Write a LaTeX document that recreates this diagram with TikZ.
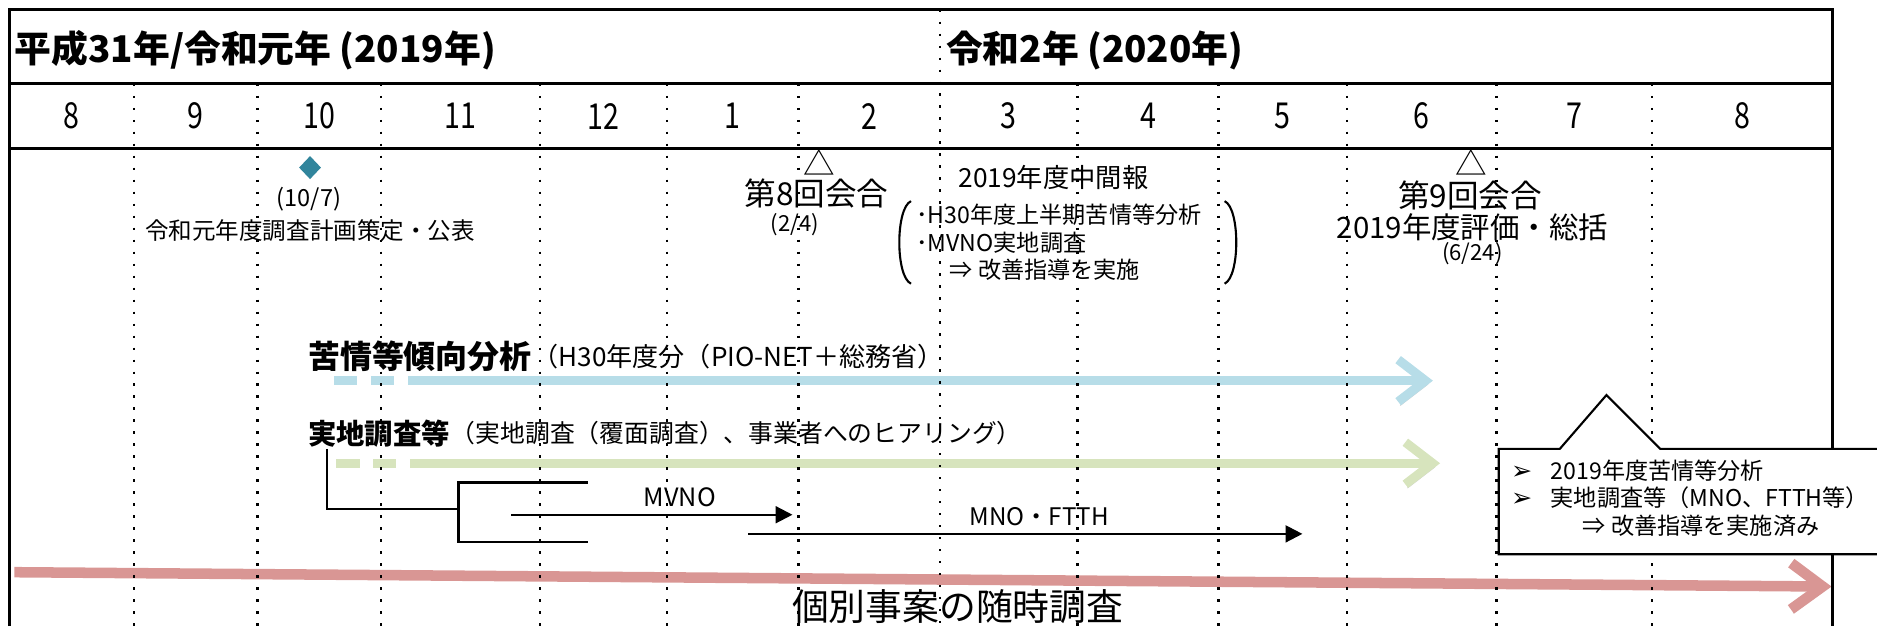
\documentclass[tikz,border=0pt]{standalone}
\usepackage{fontspec}
\setmainfont{Liberation Serif}
\newfontfamily\jp{Noto Sans CJK JP}
\newfontfamily\jpnarrow[FakeStretch=0.8]{Noto Sans CJK JP}
\newfontfamily\symfont{DejaVu Sans}
\usetikzlibrary{arrows.meta,shapes.geometric}

\definecolor{markteal}{HTML}{31859C}
\definecolor{trendblue}{HTML}{B7DDE8}
\definecolor{fieldgreen}{HTML}{D7E4BD}
\definecolor{caserose}{HTML}{D99694}

\newcommand{\fsz}[2]{\fontsize{#1}{#2}\selectfont}

\tikzset{
  frameline/.style={line width=1.3pt},
  monthsep/.style={line width=1.1pt, dash pattern=on 1.1pt off 4.6pt},
  yeartitle/.style={anchor=west, inner sep=0pt, font=\jp\bfseries\fsz{17.5}{20}},
  monthnum/.style={inner sep=0pt, font=\jpnarrow\fsz{17}{20}},
  meeting/.style={inner sep=0pt, font=\jp\fsz{15}{17}},
  smalldate/.style={inner sep=0pt, font=\jp\fsz{10.5}{12}},
  notetext/.style={inner sep=0pt, font=\jp\fsz{11.2}{13}},
  tracklabel/.style={anchor=west, inner sep=0pt, font=\jp\bfseries\fsz{13.5}{16}},
  trackshadow/.style={preaction={draw=black!70, opacity=0.28,
      transform canvas={shift={(1pt,-1.8pt)}}}},
  trackarrow/.style={line width=4.3pt, trackshadow,
      -{Straight Barb[length=13pt,width=20pt]}},
  trackdash/.style={line width=4.3pt, dash pattern=on 11pt off 6.5pt},
  branch/.style={line width=1.1pt},
  subarrow/.style={line width=1.1pt, -{Triangle[length=8pt,width=8pt]}},
  sublabel/.style={inner sep=0pt, font=\jp\fsz{11.5}{13}},
}

\begin{document}
\begin{tikzpicture}[x=0.02cm, y=-0.02cm]
\useasboundingbox (0,0) rectangle (1568,523);

% years
\node[yeartitle] (y2019) at (12,42) {平成31年/令和元年 (2019年)};
\node[yeartitle] (y2020) at (790,42) {令和2年 (2020年)};

% months
\foreach \l/\r/\m [count=\i] in {8/112/8, 112/215/9, 215/318/10, 318/451/11,
    451/557/12, 557/667/1, 667/785/2, 785/900/3, 900/1018/4, 1018/1125/5,
    1125/1250/6, 1250/1380/7, 1380/1531/8}
  \node[monthnum] (m\i) at ({(\l+\r)/2},97) {\m};

% 10/7
\node[diamond, fill=markteal, inner sep=0pt, minimum width=0.37cm,
  minimum height=0.39cm] (plan) at (259,140) {};
\node[notetext] (plandate) at (258,166) {(10/7)};
\node[notetext] (plantext) at (259,193) {令和元年度調査計画策定・公表};

% 2/4
\node[meeting] (tri8) at (684,136) {△};
\node[meeting] (mtg8) at (682,162) {第8回会合};
\node[smalldate] (date8) at (664,188) {(2/4)};

\node[inner sep=0pt, font=\jp\fsz{12.5}{14}] (interim) at (880,148) {2019年度中間報};
\node[inner sep=0pt, font=\jp\fsz{11}{13.1}, align=left, anchor=north west]
  (interimlist) at (765,170)
  {･H30年度上半期苦情等分析\\･MVNO実地調査\\\hspace*{1.45em}⇒ 改善指導を実施};
\draw[line width=1pt] (761,168) .. controls (748,174) and (748,231) .. (761,237);
\draw[line width=1pt] (1023,168) .. controls (1036,174) and (1036,231) .. (1023,237);

% 6/24
\node[meeting] (tri9) at (1229,136) {△};
\node[meeting] (mtg9) at (1228,163) {第9回会合};
\node[meeting, font=\jp\fsz{14}{16}] (review) at (1230,190) {2019年度評価・総括};
\node[smalldate] (date9) at (1230,212) {(6/24)};

% complaint trend
\node[tracklabel, font=\jp\bfseries\fsz{15.2}{17}] (trendlbl) at (257,298) {苦情等傾向分析};
\node[notetext, font=\jp\fsz{12.4}{14}, anchor=west] (trendnote) at (trendlbl.east)
  {（H30年度分（PIO-NET＋総務省）};
\coordinate (trendA) at (279,318);
\coordinate (trendS) at (344,318);
\coordinate (trendE) at (1197,318);
\draw[trackdash, trendblue] (trendA) -- (trendS);
\draw[trackarrow, trendblue] (trendS) -- (trendE);

% field survey
\node[tracklabel] (fieldlbl) at (257,362) {実地調査等};
\node[notetext, font=\jp\fsz{11.8}{14}, anchor=west] (fieldnote) at (fieldlbl.east)
  {（実地調査（覆面調査）、事業者へのヒアリング）};
\coordinate (fieldA) at (281,387);
\coordinate (fieldS) at (347,387);
\coordinate (fieldE) at (1203,387);
\draw[trackdash, fieldgreen] (fieldA) -- (fieldS);
\draw[trackarrow, fieldgreen] (fieldS) -- (fieldE);

% branches
\coordinate (br0) at (273,375);
\coordinate (br1) at (273,425);
\coordinate (br2) at (383,425);
\coordinate (br3) at (491,403);
\coordinate (br4) at (383,403);
\coordinate (br5) at (383,453);
\coordinate (br6) at (491,453);
\draw[branch] (br0) -- (br1) -- (br2);
\draw[branch] (br3) -- (br4) -- (br5) -- (br6);

\coordinate (mvnoS) at (427,430);
\coordinate (mvnoE) at (662,430);
\draw[subarrow] (mvnoS) -- (mvnoE);
\node[sublabel, font=\jp\fsz{12}{14}] (mvno) at (568,415) {MVNO};

\coordinate (mnoS) at (625,446);
\coordinate (mnoE) at (1088,446);
\draw[subarrow] (mnoS) -- (mnoE);
\node[sublabel] (mno) at (868,432) {MNO・FTTH};

% individual cases
\coordinate (caseS) at (12,478);
\coordinate (caseE) at (1530,490);
\draw[line width=5pt, caserose, trackshadow,
  -{Straight Barb[length=15pt,width=22pt]}] (caseS) -- (caseE);
\node[inner sep=0pt, font=\jp\fsz{17.5}{20}] (caselbl) at (800,507) {個別事案の随時調査};

% month separators
\foreach \x in {112,215,318,451,557,667,900,1018,1125,1250,1380}
  \draw[monthsep] (\x,70) -- (\x,523);
\draw[monthsep] (785,8) -- (785,523);

% frame
\draw[frameline] (8,523) -- (8,8) -- (1531,8) -- (1531,523);
\draw[frameline] (8,70) -- (1531,70);
\draw[line width=1.7pt] (8,124) -- (1531,124);

% recap callout
\draw[line width=1pt, fill=white] (1252,375) -- (1303,375) -- (1342,330)
  -- (1387,375) -- (1575,375) -- (1575,463) -- (1252,463) -- cycle;
\node[notetext, font=\jp\fsz{11}{13}, align=left, anchor=north west]
  (recap) at (1262,384)
  {{\symfont\fsz{12}{13}➢}\hspace{0.8em}2019年度苦情等分析\\
   {\symfont\fsz{12}{13}➢}\hspace{0.8em}実地調査等（MNO、FTTH等）\\
   \hspace*{3.1em}⇒ 改善指導を実施済み};
\end{tikzpicture}
\end{document}
